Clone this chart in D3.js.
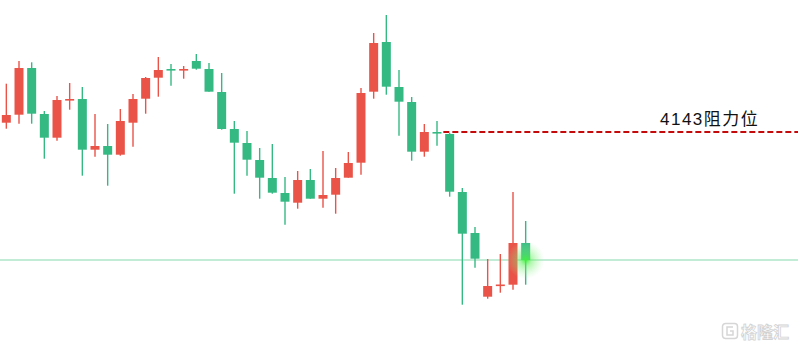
<!DOCTYPE html>
<html>
<head>
<meta charset="utf-8">
<script src="https://cdn.jsdelivr.net/npm/d3@7"></script>
<style>
  html, body { margin: 0; padding: 0; background: #fff; }
  svg { display: block; }
</style>
</head>
<body>
<svg id="chart" width="798" height="350"></svg>
<script>
// Velas (precio)
const opens  = [4152.3, 4160.3, 4207, 4161, 4137.3, 4175, 4176, 4125.3, 4129, 4120.3, 4152.3, 4176.3, 4197.3, 4206, 4205, 4214, 4206, 4183, 4146, 4132, 4115, 4097, 4082, 4072.3, 4095, 4076.3, 4080.3, 4097.3, 4112.3, 4183.3, 4233, 4188, 4173, 4123.3, 4143, 4141, 4083, 4042, 3978.3, 3989.5, 3990.3, 4032]
const highs  = [4191.3, 4214, 4212.7, 4164, 4179, 4192, 4188, 4161, 4151, 4166, 4181, 4198, 4218, 4211, 4209, 4221, 4212, 4202, 4154, 4144, 4127, 4131, 4098, 4104, 4106, 4124, 4107, 4123, 4187, 4242, 4260, 4205, 4178, 4151, 4154, 4142, 4087, 4048, 4016, 4021, 4083, 4054]
const lows   = [4146.3, 4151.3, 4151.3, 4116.3, 4134.3, 4165.3, 4099.3, 4118.3, 4089.3, 4119.3, 4128.3, 4161.3, 4178.3, 4189.3, 4196.3, 4205.3, 4183.3, 4145.3, 4081.3, 4099.3, 4076.3, 4081.3, 4050.3, 4066.3, 4076.3, 4067.3, 4061.3, 4097.3, 4100.3, 4176.3, 4180.3, 4139.3, 4114.3, 4118.3, 4129.3, 4078.3, 3970.3, 4007.3, 3976.3, 3982.3, 3985.3, 3990.3]
const closes = [4160, 4207, 4161.3, 4137.3, 4175, 4176, 4125.3, 4129, 4120.3, 4154, 4176, 4197, 4205, 4205, 4206, 4206.3, 4183.3, 4146, 4132.3, 4115.3, 4097.3, 4082.3, 4073.3, 4095, 4076.3, 4080, 4097, 4112, 4182, 4232, 4188.3, 4173.3, 4123.3, 4143, 4142, 4083.3, 4041.3, 4016.3, 3989, 3990.5, 4032, 4015]

const resistance = 4143
const resistanceFrom = 34
const resistanceLabel = '4143阻力位'
const lastPrice = closes[closes.length - 1]
const watermark = '格隆汇'

const width = 798
const height = 350

const svg = d3.select('#chart')

const candles = opens.map((o, i) => ({ i, o, h: highs[i], l: lows[i], c: closes[i] }))

// Escalas
const xScale = d3.scaleBand()
    .domain(d3.range(candles.length))
    .range([0, 532])

const yScale = d3.scaleLinear()
    .domain([3925, 4275])
    .range([height, 0])

const up = '#ea5448'
const down = '#35b983'
const bodyW = 9

const cx = i => xScale(i) + xScale.bandwidth() / 2

// Linea del precio actual
svg.append('line')
    .attr('x1', 0)
    .attr('x2', width)
    .attr('y1', yScale(lastPrice))
    .attr('y2', yScale(lastPrice))
    .attr('stroke', '#86d9ae')
    .attr('stroke-width', 1)

// Velas
const g = svg.append('g')

g.selectAll('line.wick')
    .data(candles)
    .enter()
    .append('line')
    .attr('class', 'wick')
    .attr('x1', d => cx(d.i))
    .attr('x2', d => cx(d.i))
    .attr('y1', d => yScale(d.h))
    .attr('y2', d => yScale(d.l))
    .attr('stroke', d => d.c >= d.o ? up : down)
    .attr('stroke-width', 1.4)

g.selectAll('rect.body')
    .data(candles)
    .enter()
    .append('rect')
    .attr('class', 'body')
    .attr('x', d => cx(d.i) - bodyW / 2)
    .attr('y', d => yScale(Math.max(d.o, d.c)))
    .attr('width', bodyW)
    .attr('height', d => Math.max(1.6, Math.abs(yScale(d.o) - yScale(d.c))))
    .attr('fill', d => d.c >= d.o ? up : down)

// Brillo en la ultima vela
const defs = svg.append('defs')
const glow = defs.append('radialGradient').attr('id', 'glow')
glow.append('stop').attr('offset', '0%').attr('stop-color', '#3ef03a').attr('stop-opacity', 0.95)
glow.append('stop').attr('offset', '30%').attr('stop-color', '#5ef05a').attr('stop-opacity', 0.5)
glow.append('stop').attr('offset', '100%').attr('stop-color', '#a8f5a5').attr('stop-opacity', 0)

svg.append('circle')
    .attr('cx', cx(candles.length - 1))
    .attr('cy', yScale(lastPrice))
    .attr('r', 19)
    .attr('fill', 'url(#glow)')

// Linea de resistencia
svg.append('line')
    .attr('x1', xScale(resistanceFrom) + xScale.bandwidth())
    .attr('x2', width)
    .attr('y1', yScale(resistance))
    .attr('y2', yScale(resistance))
    .attr('stroke', '#c40a0a')
    .attr('stroke-width', 2)
    .attr('stroke-dasharray', '6,3')

svg.append('text')
    .attr('x', 660)
    .attr('y', 125)
    .attr('font-family', '"Liberation Sans", "Noto Sans CJK SC", sans-serif')
    .attr('font-size', 17)
    .attr('letter-spacing', 1.5)
    .attr('fill', '#111')
    .text(resistanceLabel)

// Marca de agua
const wm = svg.append('g').attr('transform', 'translate(722, 323)')
wm.append('rect')
    .attr('x', 0.5).attr('y', 0.5)
    .attr('width', 15).attr('height', 15)
    .attr('rx', 3)
    .attr('fill', 'none')
    .attr('stroke', '#d6d6d6')
    .attr('stroke-width', 1.5)
wm.append('path')
    .attr('d', 'M11,4 H5 V12 H11 V8 H8')
    .attr('fill', 'none')
    .attr('stroke', '#d6d6d6')
    .attr('stroke-width', 1.5)
wm.append('text')
    .attr('x', 19)
    .attr('y', 14.5)
    .attr('font-family', '"Noto Sans CJK SC", sans-serif')
    .attr('font-size', 16)
    .attr('font-weight', 'bold')
    .attr('fill', '#fff')
    .attr('stroke', '#d2d2d2')
    .attr('stroke-width', 0.8)
    .text(watermark)
</script>
</body>
</html>
